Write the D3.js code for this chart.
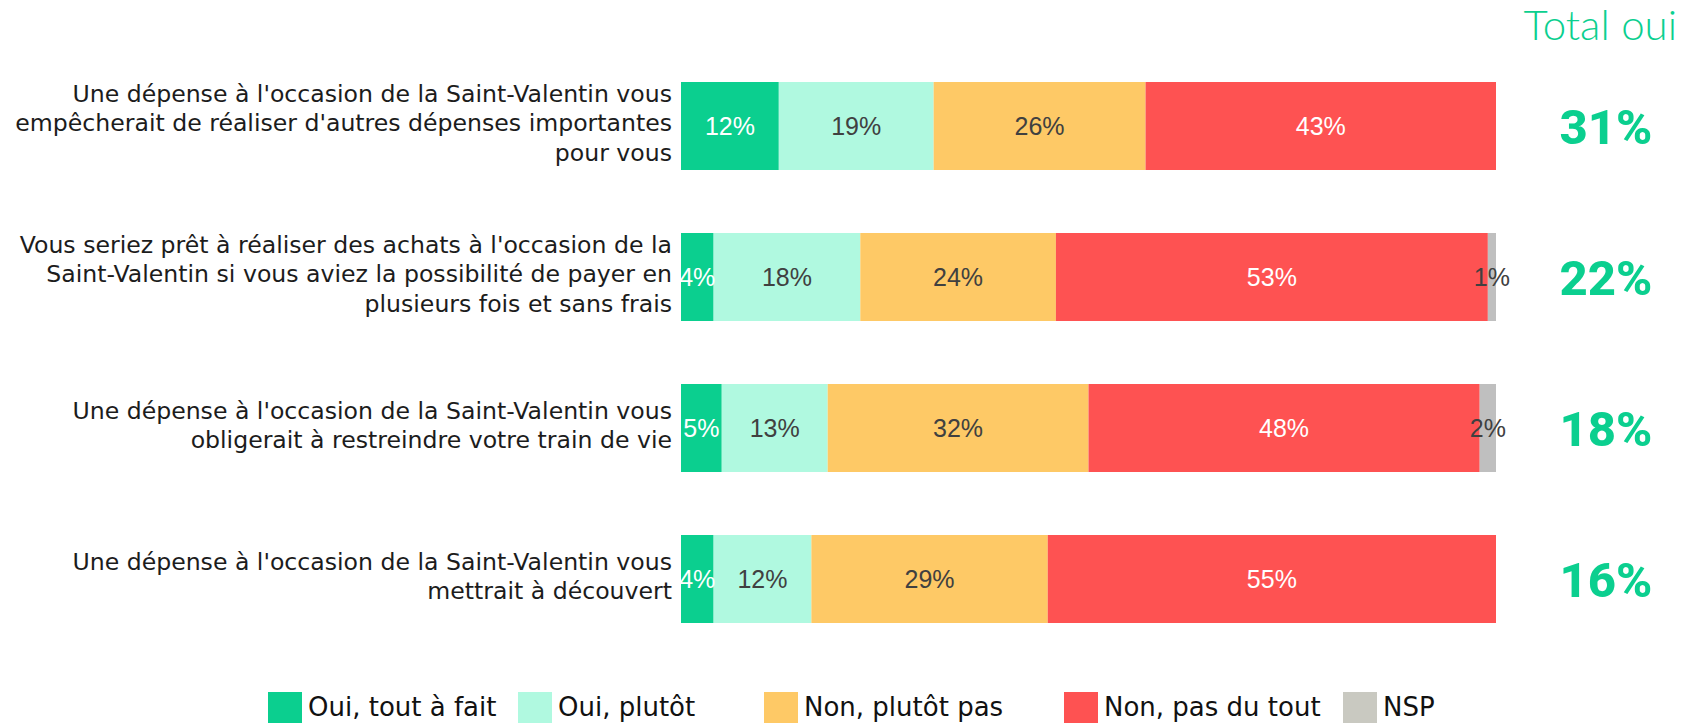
<!DOCTYPE html>
<html>
<head>
<meta charset="utf-8">
<script src="https://cdn.jsdelivr.net/npm/d3@7"></script>
<style>
  html, body { margin: 0; padding: 0; background: #ffffff; }
  svg { display: block; }
</style>
</head>
<body>
<svg id="chart" width="1682" height="723"></svg>
<script>
// ---------- DATA ----------
const categories = [
  ["Une dépense à l'occasion de la Saint-Valentin vous", "empêcherait de réaliser d'autres dépenses importantes", "pour vous"],
  ["Vous seriez prêt à réaliser des achats à l'occasion de la", "Saint-Valentin si vous aviez la possibilité de payer en", "plusieurs fois et sans frais"],
  ["Une dépense à l'occasion de la Saint-Valentin vous", "obligerait à restreindre votre train de vie"],
  ["Une dépense à l'occasion de la Saint-Valentin vous", "mettrait à découvert"]
];
const seriesNames = ["Oui, tout à fait", "Oui, plutôt", "Non, plutôt pas", "Non, pas du tout", "NSP"];
const ouiToutAFait = [12, 4, 5, 4];
const ouiPlutot    = [19, 18, 13, 12];
const nonPlutotPas = [26, 24, 32, 29];
const nonPasDuTout = [43, 53, 48, 55];
const nsp          = [0, 1, 2, 0];
const totalOui     = [31, 22, 18, 16];
const totalTitle   = "Total oui";

// ---------- STYLE / LAYOUT ----------
const barColors    = ["#0bcf8f", "#b0f9e0", "#fec966", "#fe5252", "#bfbfbf"];
const legendColors = ["#0bcf8f", "#b0f9e0", "#fec966", "#fe5252", "#c9c9c1"];
const labelColors  = ["#ffffff", "#404040", "#404040", "#ffffff", "#404040"];
const legendX      = [268, 518, 764, 1064, 1343];
const green = "#0bcf8f";

const seriesValues = [ouiToutAFait, ouiPlutot, nonPlutotPas, nonPasDuTout, nsp];
const rows = categories.map((c, i) => {
  const r = { idx: i };
  seriesNames.forEach((s, j) => r[s] = seriesValues[j][i]);
  return r;
});

const svg = d3.select("#chart");

const x = d3.scaleLinear().domain([0, 100]).range([681, 1496]);
const y = d3.scaleBand().domain(d3.range(categories.length))
  .range([82, 623]).paddingInner(63 / 151).paddingOuter(0);

const stack = d3.stack().keys(seriesNames);
const stacked = stack(rows);

const layers = svg.append("g").selectAll("g.layer")
  .data(stacked).join("g").attr("class", "layer")
  .attr("fill", (d, i) => barColors[i]);

layers.selectAll("rect")
  .data(d => d.filter(p => p[1] - p[0] > 0))
  .join("rect")
  .attr("x", d => x(d[0]))
  .attr("y", d => y(d.data.idx))
  .attr("width", d => x(d[1]) - x(d[0]))
  .attr("height", y.bandwidth());

// value labels
stacked.forEach((layer, li) => {
  svg.append("g").selectAll("text")
    .data(layer.filter(p => p[1] - p[0] > 0))
    .join("text")
    .attr("x", d => (x(d[0]) + x(d[1])) / 2)
    .attr("y", d => y(d.data.idx) + y.bandwidth() / 2)
    .attr("dy", "0.36em")
    .attr("text-anchor", "middle")
    .attr("font-family", "'Liberation Sans', Arial, sans-serif")
    .attr("font-size", 25)
    .attr("fill", labelColors[li])
    .text(d => (d[1] - d[0]) + "%");
});

// category labels
const lineH = 29.5;
const catG = svg.append("g");
categories.forEach((lines, i) => {
  const cy = y(i) + y.bandwidth() / 2 - 3;
  const t = catG.append("text")
    .attr("text-anchor", "end")
    .attr("font-family", "'DejaVu Sans', sans-serif")
    .attr("font-size", 23.6)
    .attr("fill", "#1c1c1c");
  lines.forEach((ln, k) => {
    t.append("tspan")
      .attr("x", 672)
      .attr("y", cy + (k - (lines.length - 1) / 2) * lineH)
      .attr("dy", "0.36em")
      .text(ln);
  });
});

// total oui
svg.append("text")
  .attr("x", 1677).attr("y", 40)
  .attr("text-anchor", "end")
  .attr("font-family", "Lato, 'Open Sans', sans-serif")
  .attr("font-weight", 300)
  .attr("font-size", 42)
  .attr("fill", green)
  .text(totalTitle);

svg.append("g").selectAll("text")
  .data(totalOui)
  .join("text")
  .attr("x", 1606)
  .attr("y", (d, i) => y(i) + y.bandwidth() / 2)
  .attr("dy", "0.36em")
  .attr("text-anchor", "middle")
  .attr("font-family", "Roboto, 'Open Sans', sans-serif")
  .attr("font-weight", 800)
  .attr("font-size", 49)
  .attr("fill", green)
  .text(d => d + "%");

// legend
const leg = svg.append("g").selectAll("g")
  .data(seriesNames).join("g")
  .attr("transform", (d, i) => `translate(${legendX[i]},692)`);
leg.append("rect")
  .attr("width", 34).attr("height", 34)
  .attr("fill", (d, i) => legendColors[i]);
leg.append("text")
  .attr("x", 40).attr("y", 24)
  .attr("font-family", "'DejaVu Sans', sans-serif")
  .attr("font-size", 26)
  .attr("fill", "#111111")
  .text(d => d);
</script>
</body>
</html>
